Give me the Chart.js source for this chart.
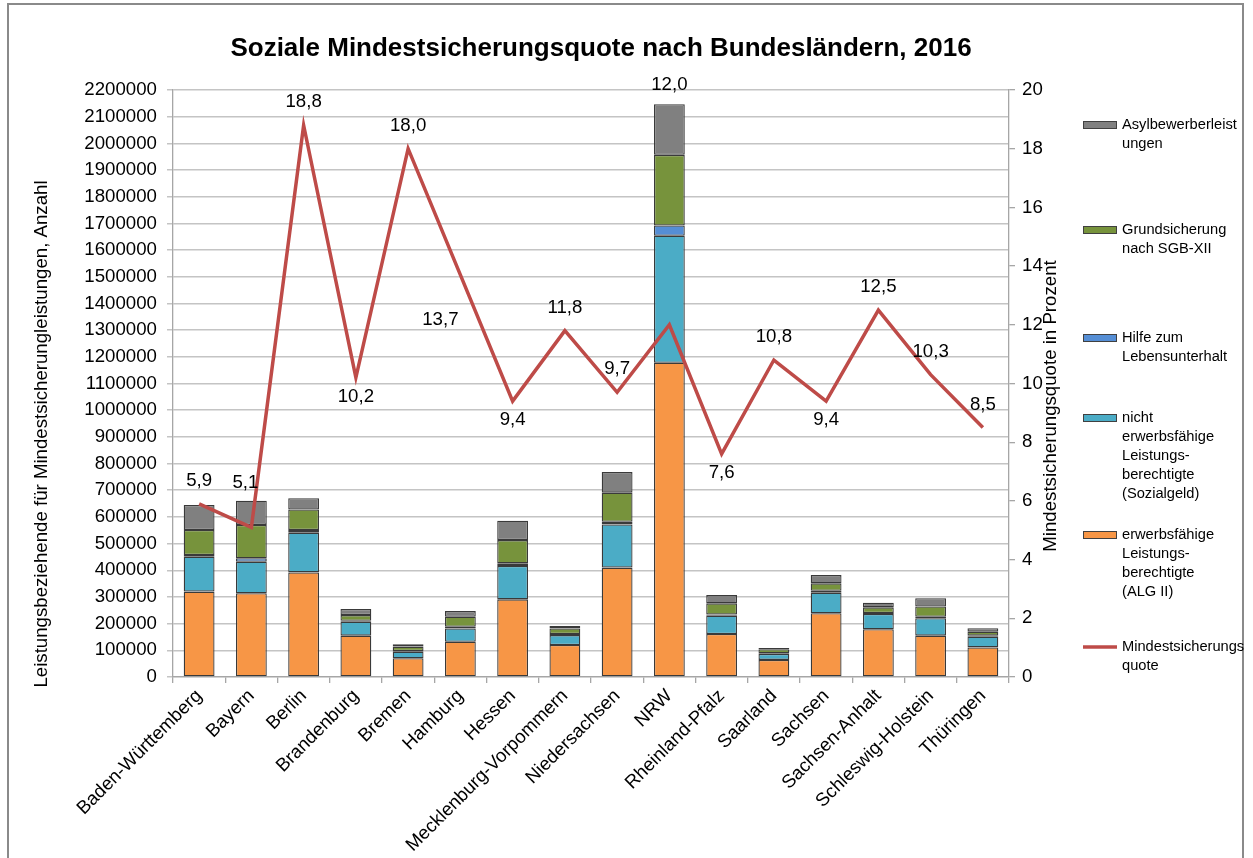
<!DOCTYPE html>
<html>
<head>
<meta charset="utf-8">
<script src="https://cdn.jsdelivr.net/npm/chart.js@4/dist/chart.umd.min.js"></script>
<style>
  html, body { margin: 0; padding: 0; background: #ffffff; }
  #wrap { position: relative; width: 1253px; height: 858px; overflow: hidden; }
  #frame { position: absolute; left: 7px; top: 3px; width: 1237px; height: 900px;
           border: 2px solid #8a8a8a; box-sizing: border-box; }
  #c { position: absolute; left: 0; top: 0; }
</style>
</head>
<body>
<div id="wrap">
  <div id="frame"></div>
  <canvas id="c" width="1253" height="858"></canvas>
</div>
<script>
// ---- data ----
const categories = ['Baden-Württemberg','Bayern','Berlin','Brandenburg','Bremen','Hamburg','Hessen',
  'Mecklenburg-Vorpommern','Niedersachsen','NRW','Rheinland-Pfalz','Saarland','Sachsen',
  'Sachsen-Anhalt','Schleswig-Holstein','Thüringen'];
const alg2 = [320000,314000,392000,155000,70000,132000,291000,120000,410000,1178000,161000,64000,239000,179000,155000,111000];
const sozialgeld = [131000,118000,149000,52000,25000,50000,125000,37000,162000,476000,69000,22000,77000,57000,65000,40000];
const hlu = [6000,13000,10000,4000,2000,6000,10000,4000,10000,38000,4000,3000,7000,4000,6000,4000];
const grundsicherung = [94000,125000,77000,21000,17000,38000,87000,21000,109000,265000,42000,15000,28000,21000,38000,15000];
const asyl = [94000,91000,42000,23000,9000,21000,73000,9000,77000,190000,31000,5000,31000,17000,31000,13000];
const quote = [5.9,5.1,18.8,10.2,18.0,13.7,9.4,11.8,9.7,12.0,7.6,10.8,9.4,12.5,10.3,8.5];
const labelPlacement = ['above','aboveHigh','above','below','above','belowLeft','below','above','above',
  'top','below','above','below','above','above','above'];

const chartTitle = 'Soziale Mindestsicherungsquote nach Bundesländern, 2016';
const leftTitle = 'Leistungsbeziehende für Mindestsicherungleistungen, Anzahl';
const rightTitle = 'Mindestsicherungsquote in Prozent';

const FONT = "'Liberation Sans', Arial, sans-serif";
const TXT = 18.67;

const legendItems = [
  { lines: ['Asylbewerberleist','ungen'], color: '#808080', y: 125 },
  { lines: ['Grundsicherung','nach SGB-XII'], color: '#77933C', y: 230 },
  { lines: ['Hilfe zum','Lebensunterhalt'], color: '#558ED5', y: 338 },
  { lines: ['nicht','erwerbsfähige','Leistungs-','berechtigte','(Sozialgeld)'], color: '#4BACC6', y: 418 },
  { lines: ['erwerbsfähige','Leistungs-','berechtigte','(ALG II)'], color: '#F79646', y: 535 },
  { lines: ['Mindestsicherungs','quote'], color: '#BE4B48', y: 647, line: true }
];

const extrasPlugin = {
  id: 'extras',
  afterDatasetsDraw(chart) {
    const ctx = chart.ctx;
    const meta = chart.getDatasetMeta(5);
    ctx.save();
    ctx.font = TXT + 'px ' + FONT;
    ctx.fillStyle = '#000';
    ctx.textAlign = 'center';
    ctx.textBaseline = 'middle';
    meta.data.forEach((pt, i) => {
      const txt = quote[i].toFixed(1).replace('.', ',');
      let x = pt.x, y = pt.y;
      switch (labelPlacement[i]) {
        case 'above': y -= 23; break;
        case 'below': y += 19; break;
        case 'aboveHigh': x -= 6; y -= 44; break;
        case 'belowLeft': x -= 20; y += 45; break;
        case 'top': y = chart.chartArea.top - 5; break;
      }
      ctx.fillText(txt, x, y);
    });
    ctx.restore();
  },
  afterDraw(chart) {
    const ctx = chart.ctx;
    ctx.save();
    // title
    ctx.font = 'bold 26px ' + FONT;
    ctx.fillStyle = '#000';
    ctx.textAlign = 'center';
    ctx.textBaseline = 'middle';
    ctx.fillText(chartTitle, 601, 49);
    // axis titles
    ctx.font = TXT + 'px ' + FONT;
    ctx.save();
    ctx.translate(42, 434);
    ctx.rotate(-Math.PI / 2);
    ctx.fillText(leftTitle, 0, 0);
    ctx.restore();
    ctx.save();
    ctx.translate(1051, 406);
    ctx.rotate(-Math.PI / 2);
    ctx.fillText(rightTitle, 0, 0);
    ctx.restore();
    // legend
    ctx.font = '14.67px ' + FONT;
    ctx.textAlign = 'left';
    legendItems.forEach(it => {
      if (it.line) {
        ctx.strokeStyle = it.color;
        ctx.lineWidth = 3.5;
        ctx.beginPath();
        ctx.moveTo(1083, it.y);
        ctx.lineTo(1117, it.y);
        ctx.stroke();
      } else {
        ctx.fillStyle = it.color;
        ctx.fillRect(1083, it.y - 4, 34, 8);
        ctx.strokeStyle = '#404040';
        ctx.lineWidth = 1;
        ctx.strokeRect(1083.5, it.y - 3.5, 33, 7);
      }
      ctx.fillStyle = '#000';
      it.lines.forEach((l, k) => ctx.fillText(l, 1122, it.y + k * 19));
    });
    ctx.restore();
  }
};

function barSet(label, data, color) {
  return { type: 'bar', label, data, backgroundColor: color, borderColor: '#3a3a3a',
    borderWidth: 1.3, borderSkipped: false, yAxisID: 'y', order: 1,
    barPercentage: 0.59, categoryPercentage: 1.0 };
}

new Chart(document.getElementById('c'), {
  data: {
    labels: categories,
    datasets: [
      barSet('erwerbsfähige Leistungsberechtigte (ALG II)', alg2, '#F79646'),
      barSet('nicht erwerbsfähige Leistungsberechtigte (Sozialgeld)', sozialgeld, '#4BACC6'),
      barSet('Hilfe zum Lebensunterhalt', hlu, '#558ED5'),
      barSet('Grundsicherung nach SGB-XII', grundsicherung, '#77933C'),
      barSet('Asylbewerberleistungen', asyl, '#808080'),
      { type: 'line', label: 'Mindestsicherungsquote', data: quote, yAxisID: 'y1',
        borderColor: '#BE4B48', borderWidth: 3.5, pointRadius: 0, tension: 0, order: 0 }
    ]
  },
  options: {
    responsive: false,
    animation: false,
    layout: { padding: { left: 0, top: 90, right: 184, bottom: 0 } },
    plugins: { legend: { display: false }, tooltip: { enabled: false }, title: { display: false } },
    scales: {
      x: {
        stacked: true,
        offset: true,
        grid: { display: true, drawOnChartArea: false, offset: true, color: '#a6a6a6', tickLength: 6, lineWidth: 1.3 },
        border: { color: '#a6a6a6', width: 1.3 },
        ticks: { autoSkip: false, maxRotation: 45, minRotation: 45, color: '#000',
          font: { family: FONT, size: TXT }, padding: 2 },
        afterFit(s) { s.height = 181; }
      },
      y: {
        stacked: true, position: 'left', min: 0, max: 2200000,
        ticks: { stepSize: 100000, color: '#000', font: { family: FONT, size: TXT }, padding: 10,
          callback: v => String(v) },
        grid: { color: '#c4c4c4', lineWidth: 1.5, tickLength: 6 },
        border: { color: '#a6a6a6', width: 1.3 },
        afterFit(s) { s.width = 173; }
      },
      y1: {
        position: 'right', min: 0, max: 20,
        ticks: { stepSize: 2, color: '#000', font: { family: FONT, size: TXT }, padding: 7 },
        grid: { drawOnChartArea: false, color: '#a6a6a6', tickLength: 6, lineWidth: 1.3 },
        border: { color: '#a6a6a6', width: 1.3 },
        afterFit(s) { s.width = 60; }
      }
    }
  },
  plugins: [extrasPlugin]
});
</script>
</body>
</html>
